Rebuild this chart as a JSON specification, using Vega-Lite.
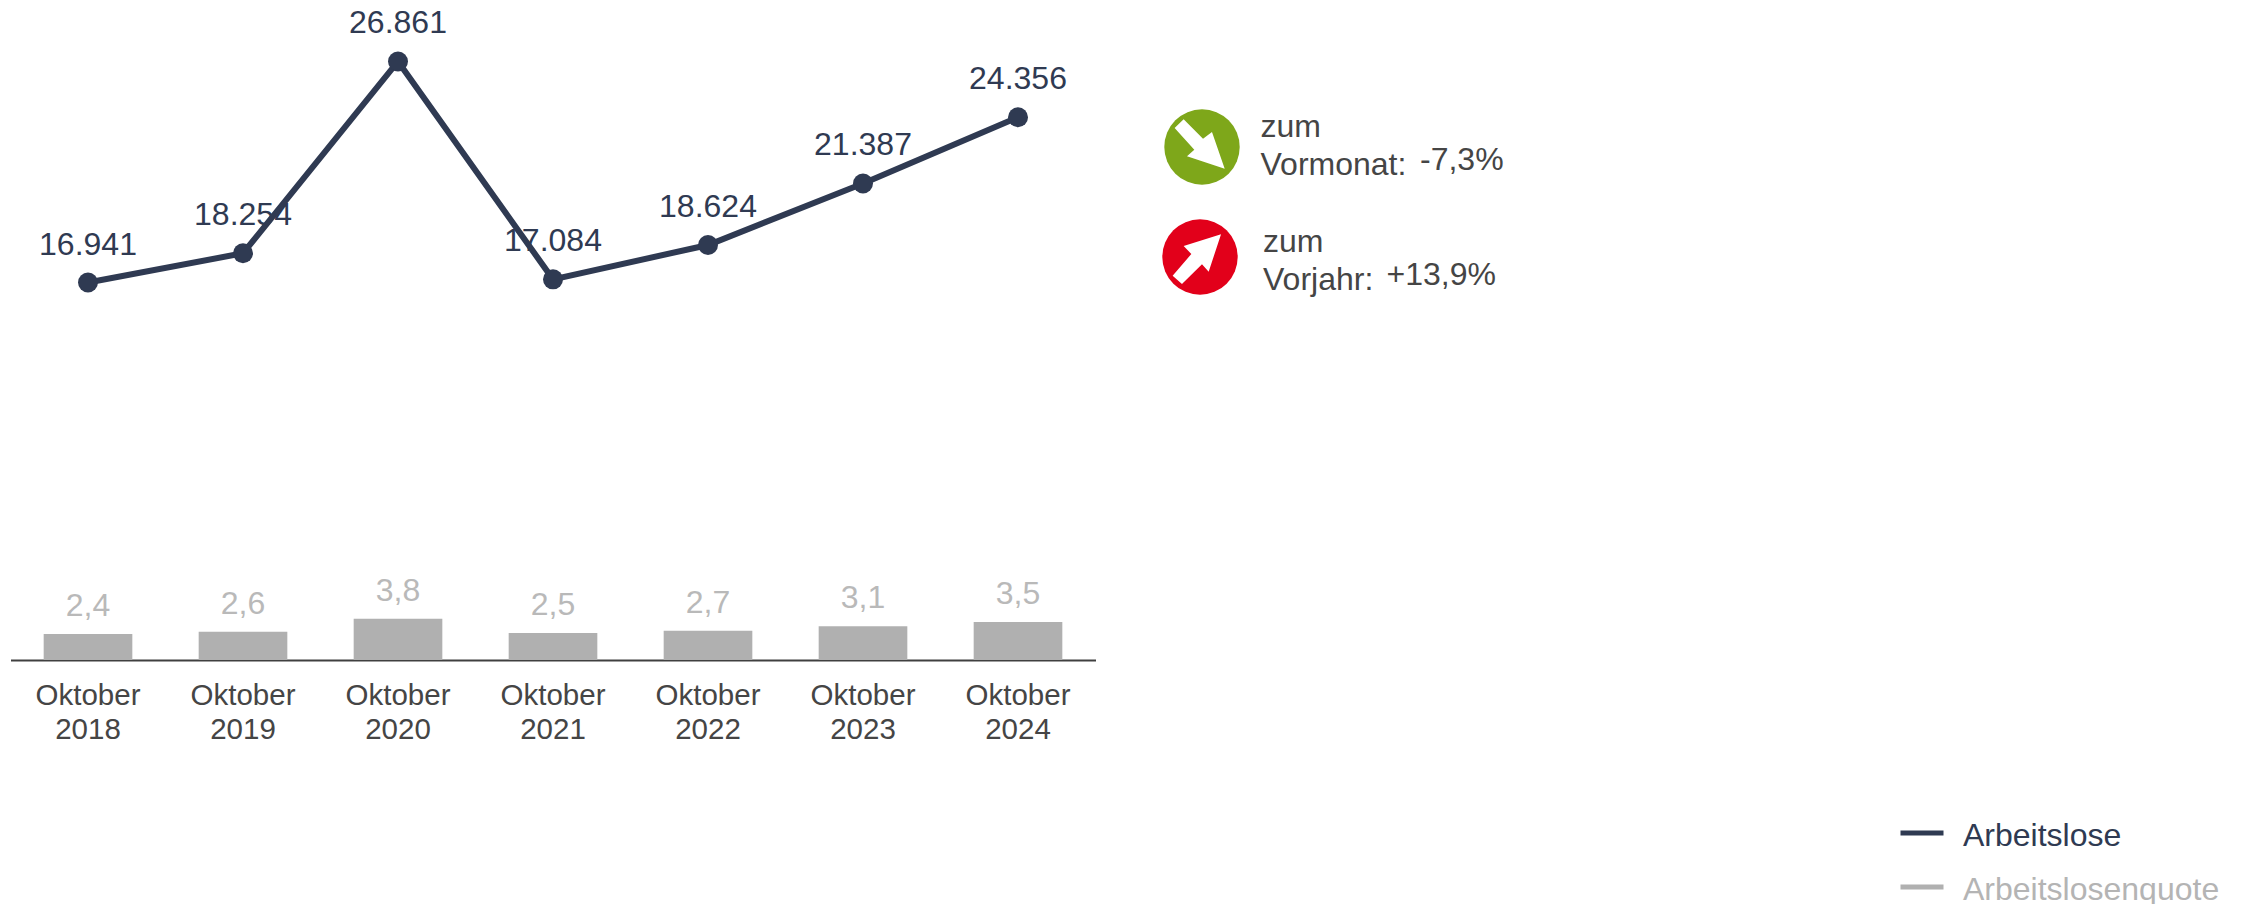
{
"$schema":"https://vega.github.io/schema/vega-lite/v6.json",
"width":2247,"height":904,"padding":0,"autosize":{"type":"none"},"background":"#ffffff",
"config":{"view":{"stroke":null},"font":"Liberation Sans","text":{"font":"Liberation Sans"}},
"datasets":{
"monate":[
{"monat":"Oktober 2018","arbeitslose":16941,"arbeitslose_text":"16.941","quote":2.4,"quote_text":"2,4"},
{"monat":"Oktober 2019","arbeitslose":18254,"arbeitslose_text":"18.254","quote":2.6,"quote_text":"2,6"},
{"monat":"Oktober 2020","arbeitslose":26861,"arbeitslose_text":"26.861","quote":3.8,"quote_text":"3,8"},
{"monat":"Oktober 2021","arbeitslose":17084,"arbeitslose_text":"17.084","quote":2.5,"quote_text":"2,5"},
{"monat":"Oktober 2022","arbeitslose":18624,"arbeitslose_text":"18.624","quote":2.7,"quote_text":"2,7"},
{"monat":"Oktober 2023","arbeitslose":21387,"arbeitslose_text":"21.387","quote":3.1,"quote_text":"3,1"},
{"monat":"Oktober 2024","arbeitslose":24356,"arbeitslose_text":"24.356","quote":3.5,"quote_text":"3,5"}
],
"vergleich":[
{"vergleich":"Vormonat","zeile":"zum\nVormonat:","wert":"-7,3%"},
{"vergleich":"Vorjahr","zeile":"zum\nVorjahr:","wert":"+13,9%"}
]},
"data":{"name":"monate"},
"resolve":{"scale":{"x":"independent","y":"independent"}},
"layer":[
{"mark":{"type":"bar"},
 "encoding":{
  "x":{"field":"monat","type":"nominal","sort":null,"title":null,
   "scale":{"type":"band","range":[10.5,1095.5],"paddingInner":0.428,"paddingOuter":0.214},
   "axis":{"offset":-244,"domainColor":"#404040","domainWidth":2,"ticks":false,"labelAngle":0,"labelFont":"Liberation Sans","labelFontSize":29.5,"labelColor":"#454545","labelLineHeight":34,"labelPadding":21,"labelExpr":"split(datum.label,' ')","labelOverlap":false}},
  "y":{"field":"quote","type":"quantitative","scale":{"domain":[0,60.83],"range":[660,0]},"axis":null},
  "color":{"datum":"Arbeitslosenquote","type":"nominal","scale":{"domain":["Arbeitslose","Arbeitslosenquote"],"range":["#2f3a52","#b0b0b0"]},
   "legend":{"title":null,"orient":"none","legendX":1898,"legendY":809,"symbolType":"stroke","symbolSize":1849,"symbolStrokeWidth":5,"labelFont":"Liberation Sans","labelFontSize":32,"labelOffset":17,"rowPadding":11,"labelLimit":400,
    "encode":{"labels":{"update":{"dy":{"value":3},"fill":{"signal":"datum.label==='Arbeitslose'?'#2f3a52':'#b4b4b4'"}}},"symbols":{"update":{"stroke":{"signal":"datum.label==='Arbeitslose'?'#2f3a52':'#b0b0b0'"}}}}}}
 }},
{"mark":{"type":"text","fontSize":32,"color":"#b9b9b9","dy":-18,"baseline":"alphabetic","align":"center","font":"Liberation Sans"},
 "encoding":{
  "x":{"field":"monat","type":"nominal","sort":null,"scale":{"type":"band","range":[10.5,1095.5],"paddingInner":0.428,"paddingOuter":0.214},"axis":null},
  "y":{"field":"quote","type":"quantitative","scale":{"domain":[0,60.83],"range":[660,0]},"axis":null},
  "text":{"field":"quote_text"}}},
{"mark":{"type":"text","fontSize":32,"color":"#2f3a52","dy":-28,"baseline":"alphabetic","align":"center","font":"Liberation Sans"},
 "encoding":{
  "x":{"field":"monat","type":"nominal","sort":null,"scale":{"type":"band","range":[10.5,1095.5],"paddingInner":0.428,"paddingOuter":0.214},"axis":null},
  "y":{"field":"arbeitslose","type":"quantitative","scale":{"domain":[0,29620],"range":[660,0]},"axis":null},
  "text":{"field":"arbeitslose_text"}}},
{"mark":{"type":"line","strokeWidth":6},
 "encoding":{
  "x":{"field":"monat","type":"nominal","sort":null,"scale":{"type":"band","range":[10.5,1095.5],"paddingInner":0.428,"paddingOuter":0.214},"axis":null},
  "y":{"field":"arbeitslose","type":"quantitative","scale":{"domain":[0,29620],"range":[660,0]},"axis":null},
  "color":{"datum":"Arbeitslose","type":"nominal"}}},
{"mark":{"type":"point","filled":true,"opacity":1,"size":400,"color":"#2f3a52"},
 "encoding":{
  "x":{"field":"monat","type":"nominal","sort":null,"scale":{"type":"band","range":[10.5,1095.5],"paddingInner":0.428,"paddingOuter":0.214},"axis":null},
  "y":{"field":"arbeitslose","type":"quantitative","scale":{"domain":[0,29620],"range":[660,0]},"axis":null}}},
{"data":{"name":"vergleich"},"mark":{"type":"point","shape":"circle","filled":true,"opacity":1,"size":5685},
 "encoding":{
  "x":{"field":"vergleich","type":"nominal","sort":null,"scale":{"type":"point","domain":["Vormonat","Vorjahr"],"range":[1202,1200],"padding":0},"axis":null},
  "y":{"field":"vergleich","type":"nominal","sort":null,"scale":{"type":"point","domain":["Vormonat","Vorjahr"],"range":[147,257],"padding":0},"axis":null},
  "fill":{"field":"vergleich","type":"nominal","scale":{"domain":["Vormonat","Vorjahr"],"range":["#7ea71a","#e2001a"]},"legend":null}}},
{"data":{"name":"vergleich"},"transform":[{"filter":"datum.vergleich==='Vormonat'"}],
 "mark":{"type":"point","shape":"M-0.726,-0.504L-0.487,-0.735L0.027,-0.221L0.265,-0.398L0.602,0.575L-0.398,0.248L-0.204,0.071Z","filled":true,"opacity":1,"size":5685,"color":"#ffffff"},
 "encoding":{
  "x":{"field":"vergleich","type":"nominal","scale":{"type":"point","domain":["Vormonat","Vorjahr"],"range":[1202,1200],"padding":0},"axis":null},
  "y":{"field":"vergleich","type":"nominal","scale":{"type":"point","domain":["Vormonat","Vorjahr"],"range":[147,257],"padding":0},"axis":null}}},
{"data":{"name":"vergleich"},"transform":[{"filter":"datum.vergleich==='Vorjahr'"}],
 "mark":{"type":"point","shape":"M-0.726,0.496L-0.478,0.717L0.053,0.195L0.23,0.389L0.558,-0.602L-0.434,-0.292L-0.23,-0.08Z","filled":true,"opacity":1,"size":5685,"color":"#ffffff"},
 "encoding":{
  "x":{"field":"vergleich","type":"nominal","scale":{"type":"point","domain":["Vormonat","Vorjahr"],"range":[1202,1200],"padding":0},"axis":null},
  "y":{"field":"vergleich","type":"nominal","scale":{"type":"point","domain":["Vormonat","Vorjahr"],"range":[147,257],"padding":0},"axis":null}}},
{"data":{"name":"vergleich"},"mark":{"type":"text","fontSize":32,"color":"#454545","align":"left","baseline":"alphabetic","lineBreak":"\n","lineHeight":38,"font":"Liberation Sans"},
 "encoding":{
  "x":{"field":"vergleich","type":"nominal","sort":null,"scale":{"type":"point","domain":["Vormonat","Vorjahr"],"range":[1260.5,1263],"padding":0},"axis":null},
  "y":{"field":"vergleich","type":"nominal","sort":null,"scale":{"type":"point","domain":["Vormonat","Vorjahr"],"range":[136.5,251.5],"padding":0},"axis":null},
  "text":{"field":"zeile"}}},
{"data":{"name":"vergleich"},"mark":{"type":"text","fontSize":32,"color":"#454545","align":"left","baseline":"alphabetic","font":"Liberation Sans"},
 "encoding":{
  "x":{"field":"vergleich","type":"nominal","sort":null,"scale":{"type":"point","domain":["Vormonat","Vorjahr"],"range":[1420,1386.5],"padding":0},"axis":null},
  "y":{"field":"vergleich","type":"nominal","sort":null,"scale":{"type":"point","domain":["Vormonat","Vorjahr"],"range":[170,285],"padding":0},"axis":null},
  "text":{"field":"wert"}}}
]
}
